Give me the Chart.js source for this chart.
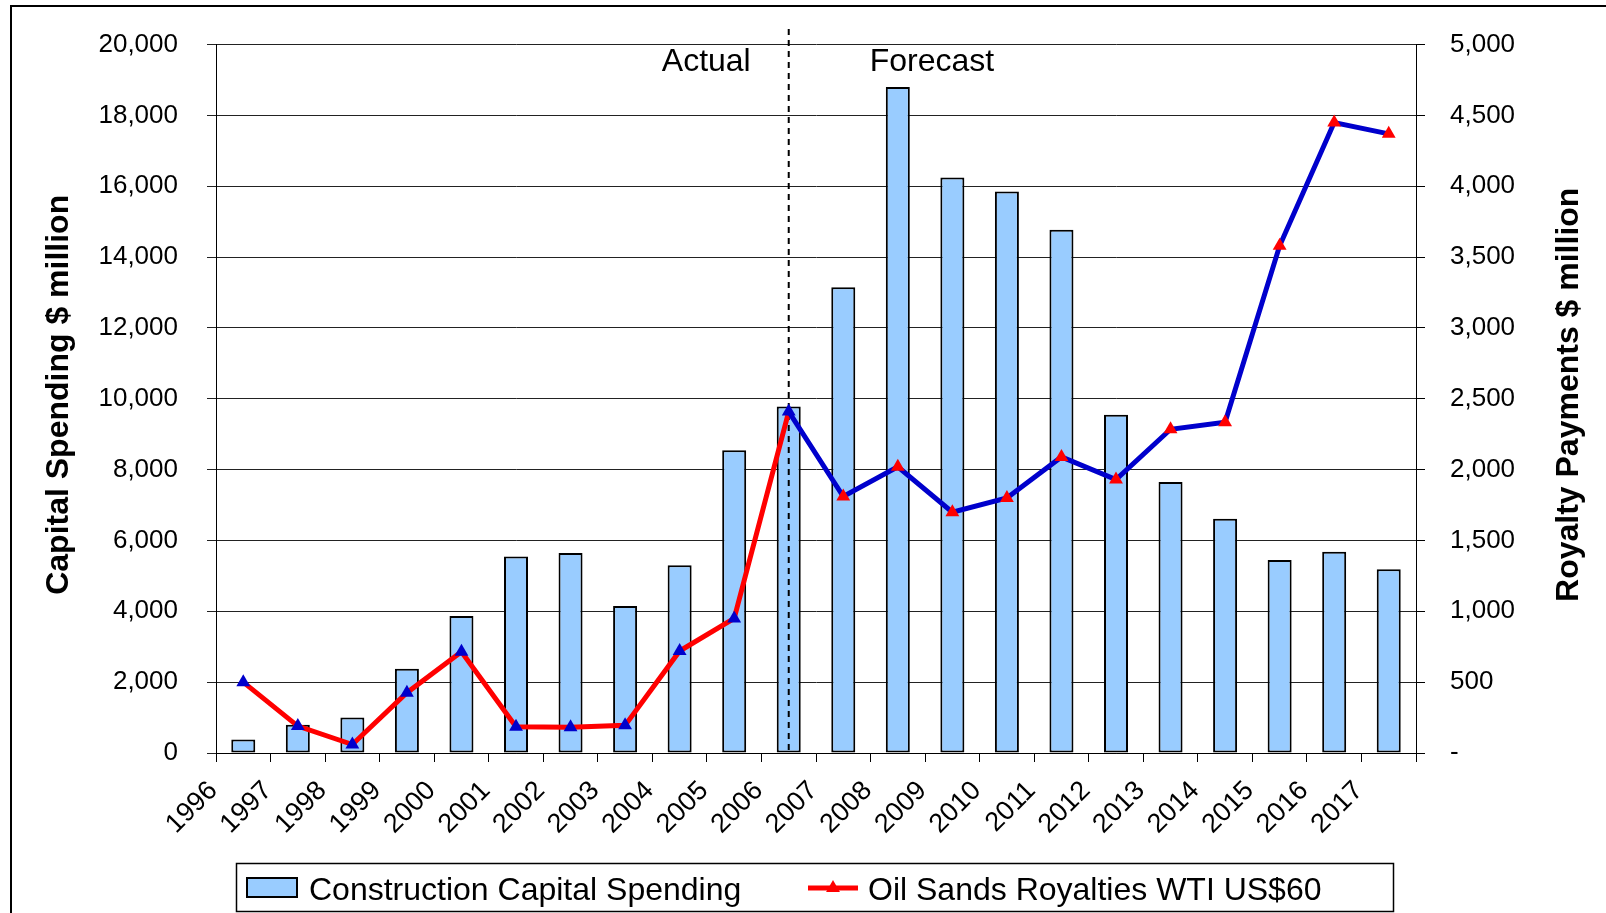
<!DOCTYPE html>
<html>
<head>
<meta charset="utf-8">
<script src="https://cdn.jsdelivr.net/npm/chart.js@4.4.0/dist/chart.umd.min.js"></script>
<style>
body { margin: 0; background: #fff; }
</style>
</head>
<body>
<canvas id="chart" width="1606" height="913"></canvas>
<script>
const years = ['1996','1997','1998','1999','2000','2001','2002','2003','2004','2005','2006',
               '2007','2008','2009','2010','2011','2012','2013','2014','2015','2016','2017'];
const capitalSpending = [380, 800, 1000, 2380, 3870, 5550, 5650, 4150, 5300, 8550, 9780,
                         13150, 18800, 16250, 15850, 14775, 9550, 7650, 6610, 5450, 5680, 5190];
const royalties = [500, 190, 60, 425, 715, 185, 182, 195, 720, 950, 2410,
                   1810, 2020, 1700, 1800, 2090, 1930, 2285, 2335, 3580, 4450, 4370];
const lastActual = 10; // 2006, last year of actuals

const FONT = '"Liberation Sans", Arial, sans-serif';
const RED = '#FF0000';
const BLUE = '#0000CC';
const BAR_BLUE = '#99CCFF';

Chart.defaults.color = '#000';
Chart.defaults.font.family = FONT;

function triangle(ctx, x, y, r, color) {
    ctx.beginPath();
    ctx.moveTo(x, y - r);
    ctx.lineTo(x + r * Math.sqrt(3) / 2, y + r / 2);
    ctx.lineTo(x - r * Math.sqrt(3) / 2, y + r / 2);
    ctx.closePath();
    ctx.fillStyle = color;
    ctx.fill();
}

const decor = {
    id: 'decor',
    beforeDraw(chart) {
        const ctx = chart.ctx;
        ctx.save();
        ctx.strokeStyle = '#000';
        ctx.lineWidth = 2;
        ctx.strokeRect(11, 6, 1700, 1000);
        ctx.restore();
    },
    afterDatasetDraw(chart, args) {
        if (args.index !== 0) return;
        // actual / forecast divider
        const ctx = chart.ctx;
        const x = chart.scales.x.getPixelForValue(lastActual);
        ctx.save();
        ctx.strokeStyle = '#000';
        ctx.lineWidth = 2;
        ctx.setLineDash([6, 5]);
        ctx.beginPath();
        ctx.moveTo(x, 29);
        ctx.lineTo(x, chart.chartArea.bottom);
        ctx.stroke();
        ctx.setLineDash([]);
        ctx.fillStyle = '#000';
        ctx.font = '32px ' + FONT;
        ctx.textBaseline = 'alphabetic';
        ctx.textAlign = 'right';
        ctx.fillText('Actual', x - 38, 71);
        ctx.textAlign = 'left';
        ctx.fillText('Forecast', x + 81, 71);
        ctx.restore();
    },
    afterDraw(chart) {
        const ctx = chart.ctx;
        const area = chart.chartArea;
        const midY = (area.top + area.bottom) / 2;
        ctx.save();
        // axis titles, both read bottom to top
        ctx.fillStyle = '#000';
        ctx.font = 'bold 32px ' + FONT;
        ctx.textAlign = 'center';
        ctx.textBaseline = 'middle';
        ctx.translate(59, midY - 4);
        ctx.rotate(-Math.PI / 2);
        ctx.fillText('Capital Spending $ million', 0, 0);
        ctx.setTransform(1, 0, 0, 1, 0, 0);
        ctx.translate(1569, midY - 4);
        ctx.rotate(-Math.PI / 2);
        ctx.fillText('Royalty Payments $ million', 0, 0);
        ctx.setTransform(1, 0, 0, 1, 0, 0);

        // legend
        const ds = chart.data.datasets;
        ctx.lineWidth = 1.5;
        ctx.strokeStyle = '#000';
        ctx.strokeRect(236.5, 863.5, 1157, 48);
        ctx.fillStyle = BAR_BLUE;
        ctx.fillRect(247, 878, 50, 19);
        ctx.lineWidth = 2;
        ctx.strokeRect(247, 878, 50, 19);
        ctx.strokeStyle = RED;
        ctx.lineWidth = 5;
        ctx.beginPath();
        ctx.moveTo(808, 888);
        ctx.lineTo(858, 888);
        ctx.stroke();
        triangle(ctx, 833, 888, 8, RED);
        ctx.fillStyle = '#000';
        ctx.font = '32px ' + FONT;
        ctx.textAlign = 'left';
        ctx.textBaseline = 'alphabetic';
        ctx.fillText(ds[0].label, 309, 900);
        ctx.fillText(ds[1].label, 868, 900);
        ctx.restore();
    }
};

new Chart(document.getElementById('chart').getContext('2d'), {
    type: 'bar',
    data: {
        labels: years,
        datasets: [{
            label: 'Construction Capital Spending',
            data: capitalSpending,
            backgroundColor: BAR_BLUE,
            borderColor: '#000',
            borderWidth: 2,
            borderSkipped: false,
            barPercentage: 0.44,
            categoryPercentage: 1,
            yAxisID: 'y',
            order: 1
        }, {
            type: 'line',
            label: 'Oil Sands Royalties WTI US$60',
            data: royalties,
            yAxisID: 'y1',
            borderColor: BLUE,
            borderWidth: 5,
            tension: 0,
            pointStyle: 'triangle',
            pointRadius: 8,
            pointBorderWidth: 0,
            pointBackgroundColor: ctx => ctx.dataIndex <= lastActual ? BLUE : RED,
            segment: {
                borderColor: ctx => ctx.p0DataIndex < lastActual ? RED : BLUE
            },
            order: 0
        }]
    },
    options: {
        responsive: false,
        animation: false,
        layout: { padding: { top: 44, left: 0, right: 0, bottom: 0 } },
        plugins: {
            legend: { display: false },
            tooltip: { enabled: false }
        },
        scales: {
            x: {
                afterFit: s => { s.height = 160; },
                grid: { display: true, drawOnChartArea: false, offset: true, color: '#000', tickLength: 9 },
                border: { color: '#000', width: 1 },
                ticks: {
                    autoSkip: false,
                    minRotation: 45,
                    maxRotation: 45,
                    labelOffset: -30,
                    padding: 13,
                    font: { size: 27 }
                }
            },
            y: {
                position: 'left',
                min: 0,
                max: 20000,
                afterFit: s => { s.width = 216; },
                grid: { color: '#222', tickLength: 9 },
                border: { color: '#000', width: 1 },
                ticks: {
                    stepSize: 2000,
                    padding: 29,
                    font: { size: 26 },
                    callback: v => v.toLocaleString('en-US')
                }
            },
            y1: {
                position: 'right',
                min: 0,
                max: 5000,
                afterFit: s => { s.width = 190; },
                grid: { drawOnChartArea: false, color: '#000', tickLength: 9 },
                border: { color: '#000', width: 1 },
                ticks: {
                    stepSize: 500,
                    padding: 25,
                    font: { size: 26 },
                    callback: v => v === 0 ? '-' : v.toLocaleString('en-US')
                }
            }
        }
    },
    plugins: [decor]
});
</script>
</body>
</html>
